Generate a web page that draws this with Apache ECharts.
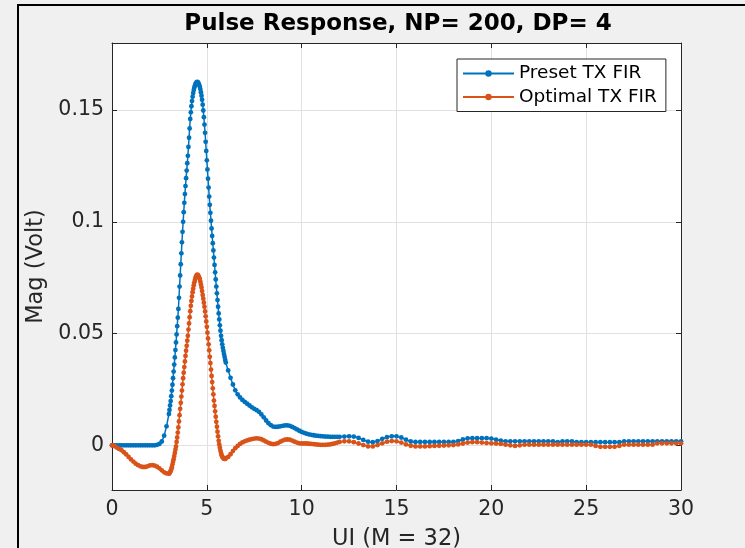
<!DOCTYPE html>
<html>
<head>
<meta charset="utf-8">
<script src="https://cdn.jsdelivr.net/npm/echarts@6/dist/echarts.min.js"></script>
<style>
html,body{margin:0;padding:0;background:#f0f0f0;}
#c{width:745px;height:548px;}
</style>
</head>
<body>
<div id="c"></div>
<script>
// ---- data (UI sample grid: coarse where flat, 1/32 UI near the main pulse) ----
function seg(a, b, step) { const out = []; for (let i = 0; a + i * step < b - 1e-9; i++) out.push(+(a + i * step).toFixed(5)); return out; }
const uiGrid = [].concat(seg(0, 3, 0.125), seg(3, 6, 1/32), seg(6, 12, 0.125), seg(12, 30.0001, 0.25));

const xTicks = [0, 5, 10, 15, 20, 25, 30];
const yTicks = [0, 0.05, 0.1, 0.15];
const seriesNames = ['Preset TX FIR', 'Optimal TX FIR'];

const presetA = [0,0,0,0,0,0,0,0,0,0,0,0,0,0,0,0,0,0,0,0.0002,0.0006,0.0017,0.0043,0.0085];
const presetB = [
 0.0140,0.0158,0.0178,0.0198,0.0220,0.0245,0.0271,0.0300,
 0.0330,0.0361,0.0393,0.0426,0.0460,0.0496,0.0533,0.0571,
 0.0610,0.0660,0.0710,0.0760,0.0810,0.0859,0.0908,0.0955,
 0.1000,0.1043,0.1085,0.1124,0.1160,0.1195,0.1229,0.1262,
 0.1295,0.1335,0.1376,0.1418,0.1460,0.1490,0.1517,0.1540,
 0.1560,0.1576,0.1590,0.1601,0.1610,0.1617,0.1622,0.1625,
 0.1626,0.1624,0.1619,0.1613,0.1605,0.1594,0.1580,0.1564,
 0.1546,0.1524,0.1498,0.1468,0.1435,0.1398,0.1358,0.1317,
 0.1275,0.1234,0.1193,0.1153,0.1113,0.1076,0.1040,0.1005,
 0.0970,0.0937,0.0904,0.0872,0.0840,0.0807,0.0774,0.0742,
 0.0710,0.0680,0.0650,0.0620,0.0590,0.0563,0.0537,0.0513,
 0.0490,0.0470,0.0452,0.0436,0.0422,0.0408,0.0395,0.0382];
const presetC = [
 0.0370,0.0335,0.0302,0.0272,0.0246,0.0228,0.0214,0.0203,
 0.0194,0.0186,0.0178,0.0170,0.0163,0.0157,0.0150,0.0138,
 0.0125,0.0111,0.0099,0.0090,0.0084,0.0082,0.0083,0.0085,
 0.0087,0.0089,0.0089,0.0087,0.0082,0.0077,0.0071,0.0065,
 0.0060,0.0056,0.0052,0.0049,0.0047,0.0045,0.0043,0.0042,
 0.0041,0.0040,0.0039,0.0039,0.0038,0.0038,0.0038,0.0038];
const presetD = [
 0.0038,0.0039,0.0040,0.0039, 0.0033,0.0024,0.0016,0.0014,
 0.0019,0.0029,0.0037,0.0040, 0.0040,0.0035,0.0025,0.0017,
 0.0015,0.0015,0.0015,0.0015, 0.0015,0.0015,0.0015,0.0015,
 0.0015,0.0019,0.0026,0.0031, 0.0032,0.0032,0.0032,0.0032,
 0.0030,0.0025,0.0021,0.0018, 0.0018,0.0018,0.0018,0.0018,
 0.0018,0.0018,0.0018,0.0018, 0.0018,0.0018,0.0014,0.0018,
 0.0018,0.0018,0.0014,0.0014, 0.0014,0.0014,0.0014,0.0014,
 0.0014,0.0014,0.0014,0.0014, 0.0018,0.0018,0.0018,0.0018,
 0.0018,0.0018,0.0018,0.0018, 0.0018,0.0018,0.0018,0.0018,
 0.0018];

const optimalA = [
 0,-0.0004,-0.0010,-0.0016,-0.0022,-0.0031,-0.0041,-0.0052,
 -0.0063,-0.0073,-0.0082,-0.0089,-0.0094,-0.0097,-0.0097,-0.0094,
 -0.0090,-0.0089,-0.0091,-0.0096,-0.0103,-0.0112,-0.0121,-0.0126];
const optimalB = [
 -0.0127,-0.0125,-0.0120,-0.0115,-0.0108,-0.0098,-0.0086,-0.0074,
 -0.0062,-0.0048,-0.0034,-0.0019,-0.0005,0.0015,0.0035,0.0057,
 0.0080,0.0107,0.0135,0.0163,0.0190,0.0218,0.0245,0.0273,
 0.0300,0.0325,0.0350,0.0375,0.0400,0.0423,0.0445,0.0468,
 0.0490,0.0518,0.0545,0.0573,0.0600,0.0624,0.0646,0.0666,
 0.0685,0.0701,0.0716,0.0729,0.0740,0.0750,0.0757,0.0761,
 0.0763,0.0761,0.0757,0.0751,0.0745,0.0733,0.0720,0.0706,
 0.0690,0.0673,0.0656,0.0638,0.0620,0.0599,0.0577,0.0554,
 0.0530,0.0504,0.0478,0.0452,0.0425,0.0396,0.0368,0.0339,
 0.0310,0.0283,0.0255,0.0228,0.0200,0.0176,0.0152,0.0128,
 0.0105,0.0083,0.0061,0.0040,0.0020,0.0004,-0.0011,-0.0024,
 -0.0035,-0.0044,-0.0051,-0.0055,-0.0058,-0.0060,-0.0061,-0.0061];
const optimalC = [
 -0.0058,-0.0052,-0.0040,-0.0026,-0.0013,-0.0003,0.0006,0.0013,
 0.0018,0.0022,0.0025,0.0028,0.0030,0.0031,0.0030,0.0027,
 0.0022,0.0016,0.0011,0.0007,0.0005,0.0006,0.0010,0.0016,
 0.0021,0.0025,0.0026,0.0025,0.0021,0.0016,0.0012,0.0009,
 0.0008,0.0008,0.0008,0.0007,0.0006,0.0005,0.0004,0.0003,
 0.0002,0.0002,0.0002,0.0003,0.0004,0.0006,0.0009,0.0012];
const optimalD = [
 0.0015,0.0018,0.0018,0.0014, 0.0008,0.0001,-0.0005,-0.0005,
 0.0001,0.0009,0.0016,0.0019, 0.0018,0.0012,0.0004,-0.0002,
 -0.0005,-0.0005,-0.0005,-0.0004, -0.0003,-0.0002,-0.0001,0.0000,
 0.0001,0.0004,0.0008,0.0012, 0.0014,0.0014,0.0012,0.0010,
 0.0009,0.0008,0.0006,0.0003, 0.0000,-0.0003,0.0000,0.0003,
 0.0003,0.0003,0.0003,0.0003, 0.0003,0.0003,0.0003,0.0003,
 0.0003,0.0003,0.0003,0.0003, 0.0003,0.0003,-0.0003,-0.0007,
 -0.0007,-0.0007,-0.0007,-0.0003, 0.0003,0.0003,0.0003,0.0003,
 0.0003,0.0003,0.0003,0.0009, 0.0009,0.0009,0.0009,0.0009,
 0.0009];

const preset = [].concat(presetA, presetB, presetC, presetD);
const optimal = [].concat(optimalA, optimalB, optimalC, optimalD);

// ---- chart ----
const FONT = 'DejaVu Sans';
const AX = '#262626';
const chart = echarts.init(document.getElementById('c'), null, {renderer: 'canvas'});
const pairs = (ys) => uiGrid.map((x, i) => [x, ys[i]]);

function xAxisBase(pos, labels) {
  return {
    type: 'value', position: pos, min: 0, max: 30, interval: 5,
    axisLine: {show: true, onZero: false, lineStyle: {color: AX, width: 1}},
    axisTick: {show: true, inside: true, length: 5, lineStyle: {color: AX}},
    axisLabel: {show: labels, color: AX, fontFamily: FONT, fontSize: 20.5, margin: 9},
    splitLine: {show: labels, lineStyle: {color: '#e1e1e1', width: 1}}
  };
}
function yAxisBase(pos, labels) {
  return {
    type: 'value', position: pos, min: -0.02, max: 0.18,
    axisLine: {show: true, onZero: false, lineStyle: {color: AX, width: 1}},
    axisTick: {show: true, inside: true, length: 5, lineStyle: {color: AX}, customValues: yTicks},
    axisLabel: {show: labels, color: AX, fontFamily: FONT, fontSize: 20.5, margin: 8,
      customValues: yTicks, formatter: v => String(+v.toFixed(4))},
    splitLine: {show: labels, lineStyle: {color: '#e1e1e1', width: 1}}
  };
}

const xMain = xAxisBase('bottom', true);
xMain.name = 'UI (M = 32)';
xMain.nameLocation = 'middle';
xMain.nameGap = 38;
xMain.nameTextStyle = {color: AX, fontFamily: FONT, fontSize: 22.5};
const yMain = yAxisBase('left', true);
yMain.name = 'Mag (Volt)';
yMain.nameLocation = 'middle';
yMain.nameGap = 59;
yMain.nameTextStyle = {color: AX, fontFamily: FONT, fontSize: 22.5};

function lineSeries(name, ys, color) {
  return {
    name, type: 'line', data: pairs(ys), xAxisIndex: 0, yAxisIndex: 0,
    symbol: 'circle', symbolSize: 4.8, showSymbol: true,
    lineStyle: {color, width: 1.5}, itemStyle: {color},
    emphasis: {disabled: true}, animation: false, clip: true
  };
}

chart.setOption({
  backgroundColor: '#f0f0f0',
  animation: false,
  title: {
    text: 'Pulse Response, NP= 200, DP= 4', left: 393, top: 8, textAlign: 'center',
    textStyle: {fontFamily: FONT, fontWeight: 'bold', fontSize: 23, color: '#000'}
  },
  legend: {
    data: seriesNames, orient: 'vertical', left: 457, top: 59,
    backgroundColor: '#fff', borderColor: AX, borderWidth: 1,
    padding: [5, 9, 5, 5], itemGap: 4.5, itemWidth: 51, itemHeight: 8, itemTextGap: 5,
    textStyle: {fontFamily: FONT, fontSize: 18.5, color: '#000'}
  },
  grid: {left: 112, right: 64, top: 43, bottom: 58, show: true, backgroundColor: '#fff', borderWidth: 0,
    outerBoundsMode: 'none', containLabel: false},
  xAxis: [xMain, xAxisBase('top', false)],
  yAxis: [yMain, yAxisBase('right', false)],
  series: [
    lineSeries(seriesNames[0], preset, '#0072BD'),
    lineSeries(seriesNames[1], optimal, '#D95319')
  ],
  graphic: [
    {type: 'rect', shape: {x: 17, y: 4, width: 728, height: 2}, style: {fill: '#000'}, silent: true},
    {type: 'rect', shape: {x: 17, y: 4, width: 2, height: 544}, style: {fill: '#000'}, silent: true}
  ]
});
</script>
</body>
</html>
